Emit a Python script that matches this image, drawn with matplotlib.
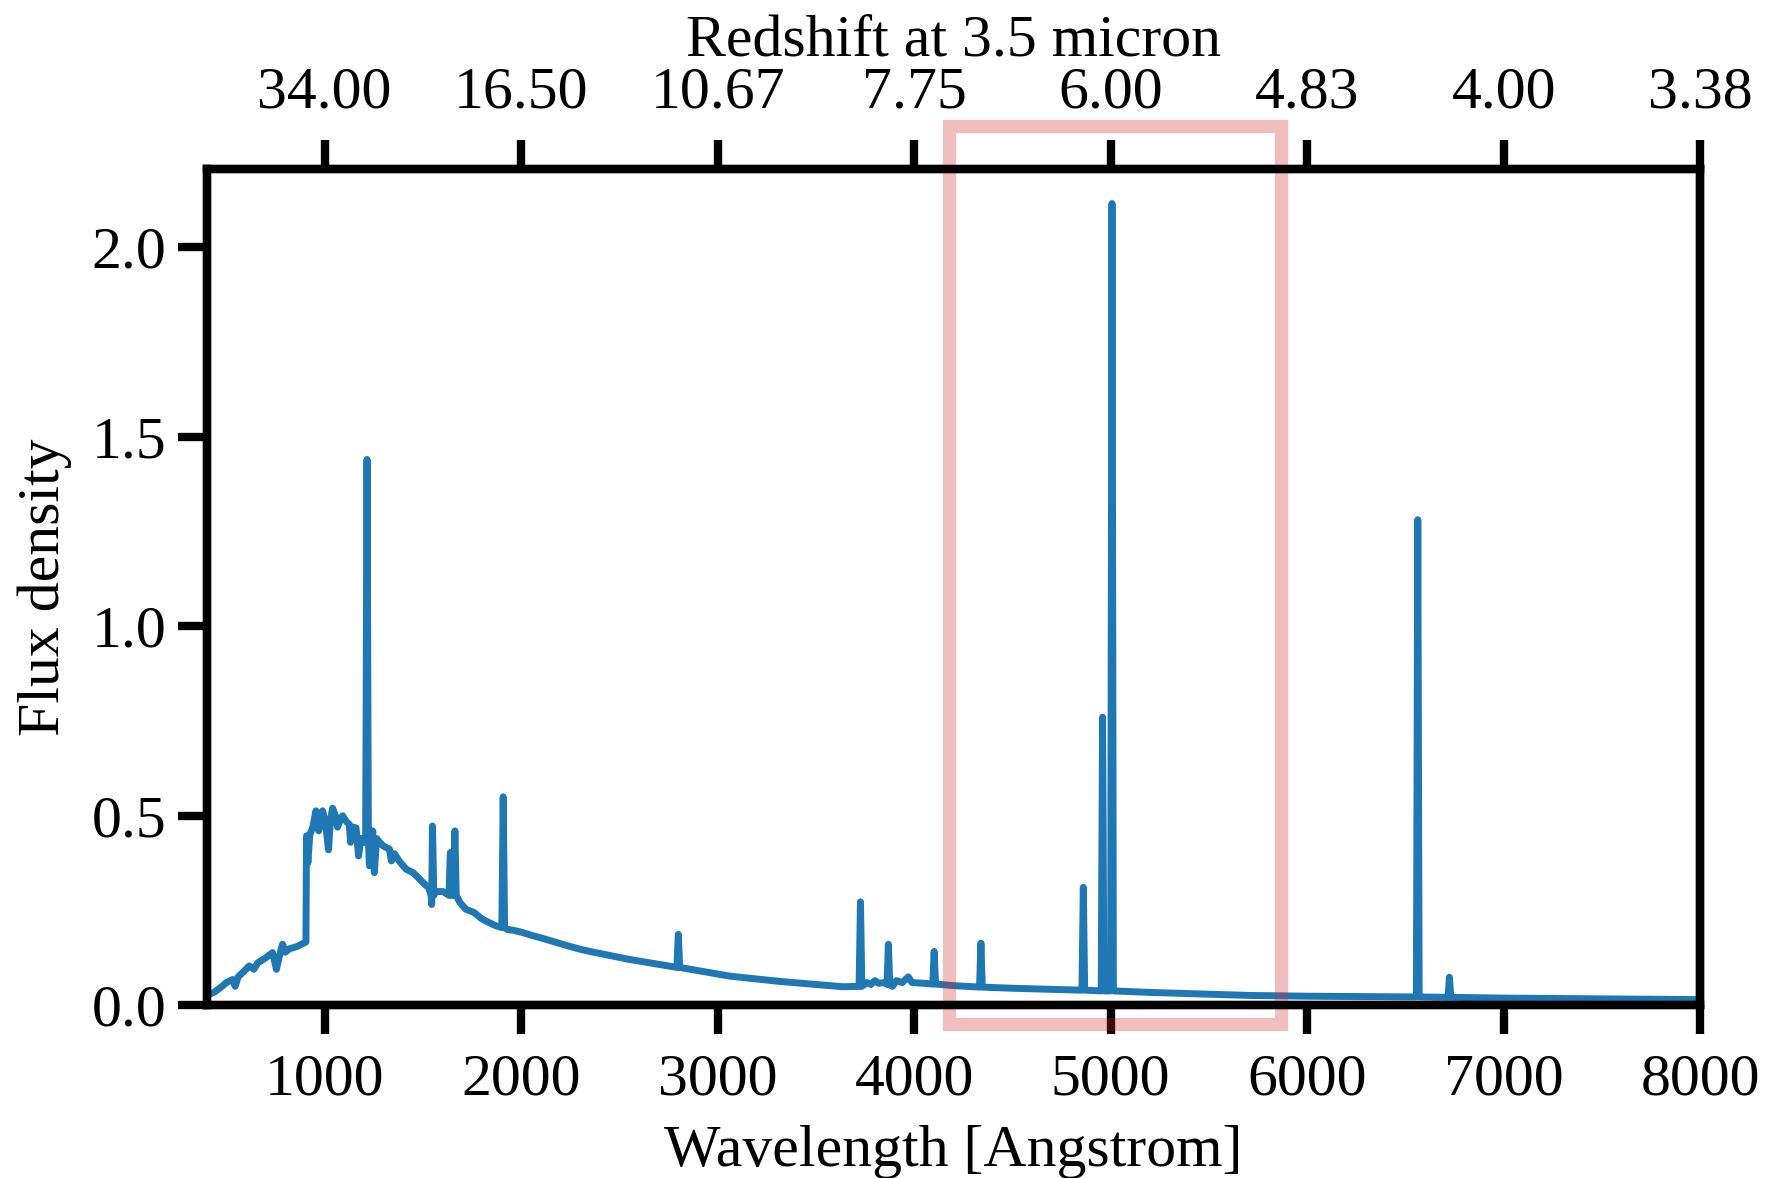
import numpy as np
import matplotlib
matplotlib.use("Agg")
import matplotlib.pyplot as plt
from matplotlib.patches import Rectangle

plt.rcParams['font.family'] = ['Liberation Serif', 'DejaVu Serif']
plt.rcParams['font.size'] = 43

# continuum of the template spectrum (wavelength in Angstrom, flux density)
cont_wave = [413, 440, 481, 500, 532, 545, 560, 590, 617, 640, 660, 700, 735, 755,
             770, 786, 800, 820, 860, 905, 908, 915, 925, 940, 956, 970, 990, 1005,
             1020, 1030, 1041, 1055, 1066, 1080, 1092, 1110, 1126, 1132, 1145, 1160,
             1173, 1185, 1200, 1228, 1245, 1253, 1265, 1279, 1300, 1330, 1340, 1355,
             1380, 1415, 1450, 1480, 1500, 1530, 1545, 1565, 1603, 1690, 1720, 1760,
             1800, 1838, 1870, 1930, 1960, 2008, 2050, 2100, 2178, 2250, 2300, 2350,
             2551, 3061, 3316, 3638, 3760, 3780, 3800, 3820, 3850, 3890, 3910, 3940,
             3970, 3990, 4050, 4200, 4500, 4700, 4843, 5200, 5709, 6000, 6500, 7000,
             7500, 8000]
cont_flux = [0.029, 0.035, 0.051, 0.060, 0.068, 0.050, 0.075, 0.090, 0.104, 0.095,
             0.112, 0.125, 0.139, 0.095, 0.130, 0.161, 0.140, 0.149, 0.155, 0.167,
             0.447, 0.376, 0.450, 0.470, 0.513, 0.460, 0.513, 0.480, 0.410, 0.490,
             0.520, 0.500, 0.470, 0.490, 0.500, 0.485, 0.477, 0.430, 0.470, 0.468,
             0.394, 0.440, 0.430, 0.368, 0.460, 0.350, 0.440, 0.430, 0.420, 0.412,
             0.381, 0.400, 0.380, 0.359, 0.350, 0.335, 0.324, 0.310, 0.266, 0.300,
             0.300, 0.270, 0.253, 0.245, 0.228, 0.218, 0.210, 0.200, 0.198, 0.192,
             0.185, 0.178, 0.166, 0.155, 0.148, 0.142, 0.121, 0.077, 0.063, 0.049,
             0.060, 0.055, 0.065, 0.058, 0.060, 0.050, 0.065, 0.060, 0.075, 0.060,
             0.058, 0.052, 0.045, 0.042, 0.040, 0.034, 0.026, 0.024, 0.022, 0.019,
             0.017, 0.015]

# emission lines: rest wavelength, peak flux and the continuum level under them
line_wave = [1216, 1549, 1640, 1663, 1909, 2800, 3727, 3869, 4102, 4340, 4861,
             4959, 5007, 6563, 6724]
line_peak = [1.44, 0.473, 0.403, 0.46, 0.55, 0.187, 0.273, 0.161, 0.142, 0.164,
             0.311, 0.76, 2.115, 1.281, 0.074]
line_base = [0.43, 0.29, 0.29, 0.29, 0.205, 0.10, 0.050, 0.055, 0.056, 0.048,
             0.040, 0.038, 0.038, 0.022, 0.021]
half_width = 7

wave = list(cont_wave)
flux = list(cont_flux)
for c, p, b in zip(line_wave, line_peak, line_base):
    wave += [c - half_width, c, c + half_width]
    flux += [b, p, b]
order = np.argsort(wave, kind="stable")
wave = np.array(wave)[order]
flux = np.array(flux)[order]

xticks = [1000, 2000, 3000, 4000, 5000, 6000, 7000, 8000]
z_labels = ['34.00', '16.50', '10.67', '7.75', '6.00', '4.83', '4.00', '3.38']

# wavelength window shown on the top axis
box_x = (4180, 5865)
box_y = (-0.05, 2.32)

fig = plt.figure(figsize=(17.71, 11.78), dpi=100)
ax = fig.add_axes([0.1167, 0.1466, 0.8433, 0.7096])

ax.plot(wave, flux, color='C0', lw=5)
ax.set_xlim(400, 8000)
ax.set_ylim(0, 2.205)
ax.set_xticks(xticks)
ax.set_yticks([0.0, 0.5, 1.0, 1.5, 2.0])
ax.set_xlabel('Wavelength [Angstrom]', labelpad=12)
ax.set_ylabel('Flux density', labelpad=14)

for s in ax.spines.values():
    s.set_linewidth(6)
ax.tick_params(axis='x', width=6, length=21, pad=14)
ax.tick_params(axis='y', width=6, length=21, pad=8)

top = ax.twiny()
top.set_xlim(ax.get_xlim())
top.set_xticks(xticks)
top.set_xticklabels(z_labels)
top.set_xlabel('Redshift at 3.5 micron', labelpad=8)
top.tick_params(width=6, length=21, pad=14)
for s in top.spines.values():
    s.set_linewidth(6)

rect = Rectangle((box_x[0], box_y[0]), box_x[1] - box_x[0], box_y[1] - box_y[0],
                 fill=False, edgecolor='C3', alpha=0.3, lw=9.5, clip_on=False,
                 zorder=5)
ax.add_patch(rect)

fig.savefig('out.png', dpi=100)
